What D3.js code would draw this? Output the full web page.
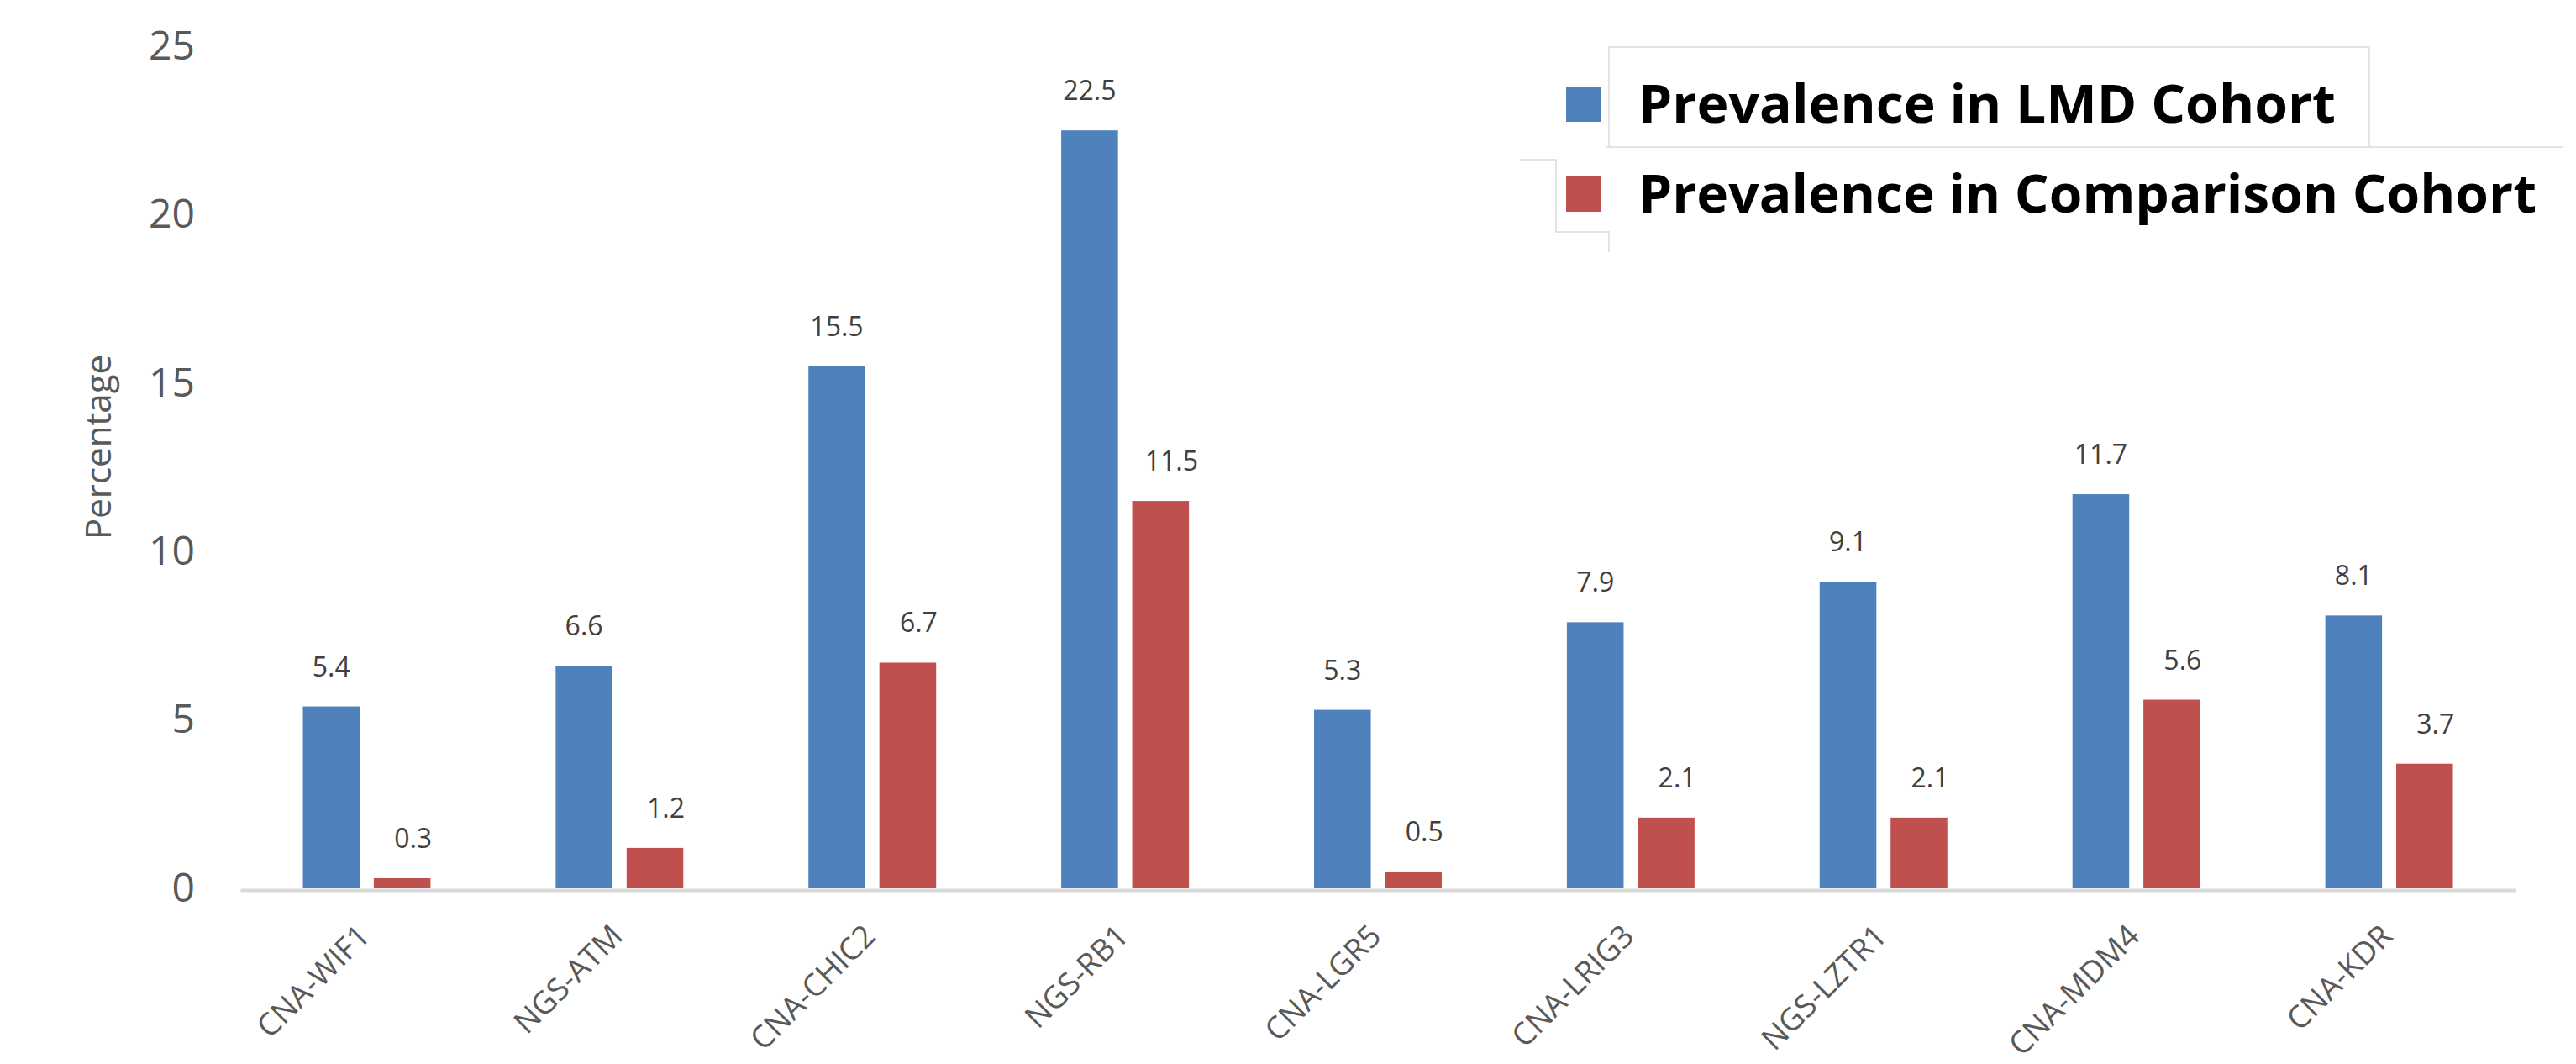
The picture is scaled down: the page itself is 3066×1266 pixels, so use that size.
<!DOCTYPE html>
<html>
<head>
<meta charset="utf-8">
<script src="https://cdn.jsdelivr.net/npm/d3@7"></script>
<style>
  body { margin: 0; background: #fff; }
  svg { display: block; }
</style>
</head>
<body>
<svg width="3066" height="1266"></svg>
<script>
const categories = ["CNA-WIF1", "NGS-ATM", "CNA-CHIC2", "NGS-RB1", "CNA-LGR5", "CNA-LRIG3", "NGS-LZTR1", "CNA-MDM4", "CNA-KDR"];
const lmdValues = [5.4, 6.6, 15.5, 22.5, 5.3, 7.9, 9.1, 11.7, 8.1];
const comparisonValues = [0.3, 1.2, 6.7, 11.5, 0.5, 2.1, 2.1, 5.6, 3.7];
const seriesNames = ["Prevalence in LMD Cohort", "Prevalence in Comparison Cohort"];
const seriesColors = ["#4f81bd", "#c0504d"];
const yTicks = [0, 5, 10, 15, 20, 25];
const yTitle = "Percentage";

let svg = d3.select("svg"),
  font = "'Open Sans', 'Noto Sans', sans-serif",
  baseY = 1057;

let series = [lmdValues, comparisonValues];

let x0 = d3
  .scaleBand()
  .domain(categories)
  .range([286, 2994])
  .paddingInner(0.495)
  .paddingOuter(0.2475);

let x1 = d3
  .scaleBand()
  .domain(d3.range(series.length))
  .range([0, x0.bandwidth()])
  .paddingInner(0.2);

let y = d3.scaleLinear().domain([0, 25]).range([baseY, 55]);

// bars
let groups = svg
  .append("g")
  .selectAll("g")
  .data(categories)
  .enter()
  .append("g")
  .attr("transform", function (d) {
    return "translate(" + x0(d) + ",0)";
  });

groups
  .selectAll("rect")
  .data(function (d, i) {
    return series.map(function (s, k) {
      return { k: k, v: s[i] };
    });
  })
  .enter()
  .append("rect")
  .attr("x", function (d) {
    return x1(d.k);
  })
  .attr("y", function (d) {
    return y(d.v);
  })
  .attr("width", x1.bandwidth())
  .attr("height", function (d) {
    return baseY - y(d.v);
  })
  .style("fill", function (d) {
    return seriesColors[d.k];
  });

// value labels
groups
  .selectAll("text")
  .data(function (d, i) {
    return series.map(function (s, k) {
      return { k: k, v: s[i] };
    });
  })
  .enter()
  .append("text")
  .attr("x", function (d) {
    return x1(d.k) + x1.bandwidth() / 2 + (d.k === 1 ? 13 : 0);
  })
  .attr("y", function (d) {
    return y(d.v) - 36;
  })
  .attr("text-anchor", "middle")
  .style("font-family", font)
  .style("font-size", "32px")
  .style("fill", "#404040")
  .text(function (d) {
    return d.v.toFixed(1);
  });

// x axis
let xAxis = svg
  .append("g")
  .attr("transform", "translate(0," + (baseY + 2) + ")")
  .call(d3.axisBottom(x0).tickSize(0).tickSizeOuter(0));

xAxis.select(".domain").attr("stroke", "#d9d9d9").attr("stroke-width", 4);

xAxis
  .selectAll(".tick text")
  .attr("x", 0)
  .attr("y", 0)
  .attr("dy", 0)
  .attr("text-anchor", "end")
  .attr("transform", "translate(6,57) rotate(-45)")
  .style("font-family", font)
  .style("font-size", "37px")
  .style("fill", "#595959");

// y axis
let yAxis = svg
  .append("g")
  .attr("transform", "translate(232,0)")
  .call(d3.axisLeft(y).tickValues(yTicks).tickSize(0).tickPadding(0));

yAxis.select(".domain").remove();

yAxis
  .selectAll(".tick text")
  .style("font-family", font)
  .style("font-size", "48px")
  .style("fill", "#595959");

svg
  .append("text")
  .attr("transform", "translate(132,532) rotate(-90)")
  .attr("text-anchor", "middle")
  .style("font-family", font)
  .style("font-size", "42px")
  .style("fill", "#595959")
  .text(yTitle);

// legend (pasted box outlines)
let frame = svg
  .append("path")
  .attr(
    "d",
    "M1915,175V56H2820V175 M1911,175H3051 M1809,190H1852V276H1915V300"
  )
  .attr("fill", "none")
  .attr("stroke", "#e4e4e4")
  .attr("stroke-width", 2);

let legendY = [103, 210],
  legendW = [830, 1069];

let legend = svg
  .append("g")
  .selectAll("g")
  .data(seriesNames)
  .enter()
  .append("g")
  .attr("transform", function (d, i) {
    return "translate(1864," + legendY[i] + ")";
  });

legend
  .append("rect")
  .attr("width", 42)
  .attr("height", 42)
  .style("fill", function (d, i) {
    return seriesColors[i];
  });

legend
  .append("text")
  .attr("x", 86)
  .attr("y", 43)
  .attr("textLength", function (d, i) {
    return legendW[i];
  })
  .attr("lengthAdjust", "spacingAndGlyphs")
  .style("font-family", font)
  .style("font-weight", "bold")
  .style("font-size", "62px")
  .style("fill", "#000")
  .text(function (d) {
    return d;
  });
</script>
</body>
</html>
